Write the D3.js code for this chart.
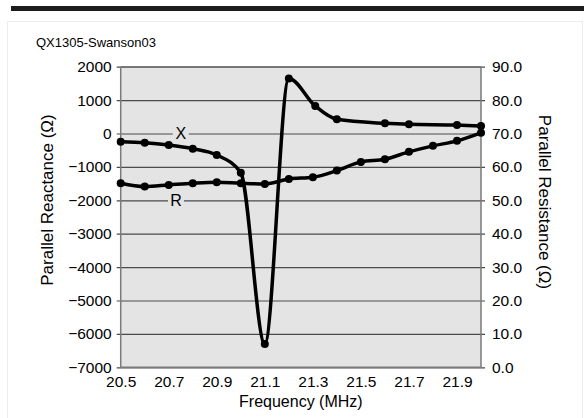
<!DOCTYPE html>
<html><head><meta charset="utf-8">
<script src="https://cdn.jsdelivr.net/npm/d3@7"></script>
<style>
body{margin:0;background:#fff;}
svg{display:block;font-family:"Liberation Sans",Arial,sans-serif;}
</style></head>
<body>
<svg id="c" width="584" height="418"></svg>
<script>
// Reactance (X) series
const freqX = [20.5, 20.6, 20.7, 20.8, 20.9, 21.0, 21.1, 21.2, 21.31, 21.4, 21.6, 21.7, 21.9, 22.0];
const reactance = [-245, -275, -345, -455, -645, -1175, -6300, 1650, 823, 425, 305, 275, 254, 224];
// Resistance (R) series
const freqR = [20.5, 20.6, 20.7, 20.8, 20.9, 21.0, 21.1, 21.2, 21.3, 21.4, 21.5, 21.6, 21.7, 21.8, 21.9, 22.0];
const resistance = [55.1, 54.1, 54.6, 55.1, 55.4, 55.1, 54.9, 56.4, 56.9, 58.9, 61.5, 62.3, 64.5, 66.3, 67.8, 70.2];
// Tick labels
const xTicks = [20.5, 20.7, 20.9, 21.1, 21.3, 21.5, 21.7, 21.9];
const yLeftTicks = [-7000, -6000, -5000, -4000, -3000, -2000, -1000, 0, 1000, 2000];
const yRightTicks = [0, 10, 20, 30, 40, 50, 60, 70, 80, 90];
const title = "QX1305-Swanson03";

const svg = d3.select("#c");
const L = 120.7, R = 481, T = 66.7, B = 367.3;
const x = d3.scaleLinear().domain([20.5, 22.0]).range([L, R]);
const yL = d3.scaleLinear().domain([-7000, 2000]).range([B, T]);
const yR = d3.scaleLinear().domain([0, 90]).range([B, T]);

// frame & top bar
svg.append("rect").attr("x", 7.5).attr("y", 21.5).attr("width", 575).attr("height", 420)
  .attr("fill", "none").attr("stroke", "#ededed");
svg.append("rect").attr("x", 11).attr("y", 6).attr("width", 573).attr("height", 5).attr("fill", "#1c1c1c");

svg.append("text").attr("x", 36).attr("y", 47).attr("font-size", 13).attr("fill", "#000").text(title);

// plot bg
svg.append("rect").attr("x", L).attr("y", T).attr("width", R - L).attr("height", B - T).attr("fill", "#e4e4e4");

// left axis with grid
const gl = svg.append("g").attr("transform", `translate(${L - 4},0)`)
  .call(d3.axisLeft(yL).tickValues(yLeftTicks).tickSize(-(R - L + 8)).tickPadding(5).tickFormat(d3.format("d")));
gl.select(".domain").remove();
gl.selectAll(".tick line").attr("stroke", "#4a4a4a").attr("stroke-width", 1.2);
gl.selectAll(".tick text").attr("font-size", 15.5).attr("fill", "#000").attr("font-family", "Liberation Sans, Arial, sans-serif");

// right axis
const gr = svg.append("g").attr("transform", `translate(${R},0)`)
  .call(d3.axisRight(yR).tickValues(yRightTicks).tickSize(0).tickPadding(11).tickFormat(d3.format(".1f")));
gr.select(".domain").remove();
gr.selectAll(".tick text").attr("font-size", 15.5).attr("fill", "#000").attr("font-family", "Liberation Sans, Arial, sans-serif");

// bottom axis
const gb = svg.append("g").attr("transform", `translate(0,${B})`)
  .call(d3.axisBottom(x).tickValues(xTicks).tickSize(0).tickPadding(8.5).tickFormat(d3.format(".1f")));
gb.select(".domain").remove();
gb.selectAll(".tick text").attr("font-size", 15.5).attr("fill", "#000").attr("font-family", "Liberation Sans, Arial, sans-serif");

// plot border
svg.append("path").attr("d", `M${L},${T}V${B}H${R}V${T}`).attr("fill", "none").attr("stroke", "#7a7a7a").attr("stroke-width", 1.5);
svg.append("line").attr("x1", L).attr("x2", R).attr("y1", T).attr("y2", T).attr("stroke", "#7a7a7a").attr("stroke-width", 1.2);

// series labels
function label(tx, xx, yy) {
  const g = svg.append("g");
  g.append("rect").attr("x", xx - 8).attr("y", yy - 8).attr("width", 16).attr("height", 16).attr("fill", "#e4e4e4");
  g.append("text").attr("x", xx).attr("y", yy).attr("text-anchor", "middle").attr("dy", "0.36em")
    .attr("font-size", 16).text(tx);
}
label("X", x(20.75), yL(0));
label("R", x(20.73), yL(-2000));

// lines
const lineX = d3.line().x((d, i) => x(freqX[i])).y(d => yL(d)).curve(d3.curveMonotoneX);
const lineR = d3.line().x((d, i) => x(freqR[i])).y(d => yR(d)).curve(d3.curveMonotoneX);
svg.append("path").attr("d", lineR(resistance)).attr("fill", "none").attr("stroke", "#000").attr("stroke-width", 3.5);
svg.append("path").attr("d", lineX(reactance)).attr("fill", "none").attr("stroke", "#000").attr("stroke-width", 3.5);
svg.selectAll(".mr").data(resistance).join("circle").attr("cx", (d, i) => x(freqR[i])).attr("cy", d => yR(d)).attr("r", 4).attr("fill", "#000");
svg.selectAll(".mx").data(reactance).join("circle").attr("cx", (d, i) => x(freqX[i])).attr("cy", d => yL(d)).attr("r", 4).attr("fill", "#000");

// axis titles
svg.append("text").attr("transform", `translate(53,200) rotate(-90)`).attr("text-anchor", "middle")
  .attr("font-size", 17).text("Parallel Reactance (Ω)");
svg.append("text").attr("transform", `translate(539,202) rotate(90)`).attr("text-anchor", "middle")
  .attr("font-size", 17).text("Parallel Resistance (Ω)");
svg.append("text").attr("x", (L + R) / 2).attr("y", 407).attr("text-anchor", "middle")
  .attr("font-size", 16).text("Frequency (MHz)");
</script>
</body></html>
